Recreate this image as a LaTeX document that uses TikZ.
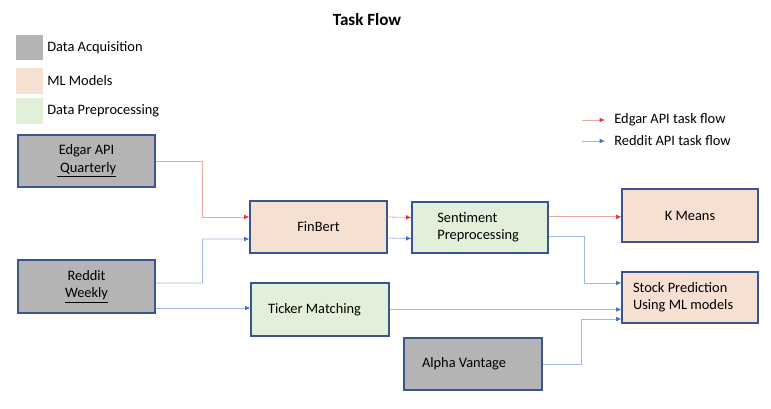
\documentclass[tikz,border=0pt]{standalone}
\usepackage{fontspec}
\setmainfont{Carlito}
\usetikzlibrary{arrows.meta}
\definecolor{acqgray}{HTML}{B4B4B4}
\definecolor{mlpeach}{HTML}{F6E0D2}
\definecolor{prepgreen}{HTML}{E2EFD9}
\definecolor{boxline}{HTML}{3B5590}
\definecolor{edgarred}{HTML}{E53935}
\definecolor{redditblue}{HTML}{4472C4}
\tikzset{
  box/.style={draw=boxline, line width=0.8pt, minimum width=102.75pt, minimum height=39pt, inner sep=0pt, font=\fontsize{10.8}{13}\selectfont},
  acq/.style={box, fill=acqgray},
  ml/.style={box, fill=mlpeach},
  prep/.style={box, fill=prepgreen},
  edgarflow/.style={draw=edgarred!45, line width=0.6pt, -{Latex[length=4pt,width=3.5pt,color=edgarred]}},
  redditflow/.style={draw=redditblue!50, line width=0.6pt, -{Latex[length=4pt,width=3.5pt,color=redditblue]}},
  keybox/.style={minimum width=20pt, minimum height=19pt, inner sep=0pt},
  keytext/.style={anchor=west, inner sep=0pt, font=\fontsize{10.8}{13}\selectfont}
}
\begin{document}
\begin{tikzpicture}[x=0.75pt,y=-0.75pt]
\useasboundingbox (0,0) rectangle (771,408);
\node[font=\fontsize{12.8}{15}\selectfont\bfseries] (title) at (367,20) {Task Flow};
% legend
\node[keybox, fill=acqgray] (k1) at (29.5,47.5) {};
\node[keybox, fill=mlpeach] (k2) at (29.5,81) {};
\node[keybox, fill=prepgreen] (k3) at (29.5,111) {};
\node[keytext] (t1) at (47,47.5) {Data Acquisition};
\node[keytext] (t2) at (47,81) {ML Models};
\node[keytext] (t3) at (47,111) {Data Preprocessing};
\coordinate (er1) at (582,120);
\coordinate (er2) at (605,120);
\coordinate (rb1) at (582,141);
\coordinate (rb2) at (605,141);
\draw[edgarflow] (er1) -- (er2) node[keytext, xshift=6.75pt] (t4) {Edgar API task flow};
\draw[redditflow] (rb1) -- (rb2) node[keytext, xshift=6.75pt] (t5) {Reddit API task flow};
% boxes
\node[acq, align=center] (edgar) at (86.5,161) {Edgar API\\\underline{ Quarterly}};
\node[acq, align=center, minimum height=39.75pt] (reddit) at (86.5,286.5) {Reddit\\\underline{Weekly}};
\node[ml] (finbert) at (318.5,227) {FinBert};
\node[prep, minimum width=103.5pt, minimum height=39.75pt, text width=78pt, align=flush left] (ticker) at (320,309.5) {Ticker Matching};
\node[prep, minimum width=102pt, minimum height=38.25pt, text width=64pt, align=flush left] (senti) at (480,227.5) {Sentiment\\Preprocessing};
\node[ml, minimum width=102pt, minimum height=39.75pt] (kmeans) at (690,215.5) {K Means};
\node[ml, minimum width=102pt, minimum height=38.25pt, text width=85.5pt, align=flush left] (stock) at (690,297.5) {Stock Prediction\\Using ML models};
\node[acq, minimum width=103.5pt, text width=76.5pt, align=flush left] (alpha) at (473,364) {Alpha Vantage};
% flows
\draw[edgarflow] (edgar.east) -| ++(47,56) -- ([yshift=7.5pt]finbert.west);
\draw[redditflow] ([yshift=2.6pt]reddit.east) -| ++(47,-44) -- ([yshift=-9pt]finbert.west);
\coordinate (rw) at ([yshift=-16.1pt]reddit.east);
\draw[redditflow] (rw) -- (rw -| ticker.west);
\draw[edgarflow] ([yshift=7.5pt]finbert.east) -- ([yshift=7.5pt]senti.west);
\draw[redditflow] ([yshift=-8.25pt]finbert.east) -- ([yshift=-8.25pt]senti.west);
\coordinate (se) at ([yshift=8pt]senti.east);
\draw[edgarflow] (se) -- (se -| kmeans.west);
\draw[redditflow] ([yshift=-6.5pt]senti.east) -| ([xshift=-27.75pt,yshift=10.9pt]stock.west) -- ([yshift=10.9pt]stock.west);
\draw[redditflow] (ticker.east) -- (ticker.east -| stock.west);
\draw[redditflow] (alpha.east) -| ([xshift=-30pt,yshift=-16.1pt]stock.west) -- ([yshift=-16.1pt]stock.west);
\end{tikzpicture}
\end{document}
